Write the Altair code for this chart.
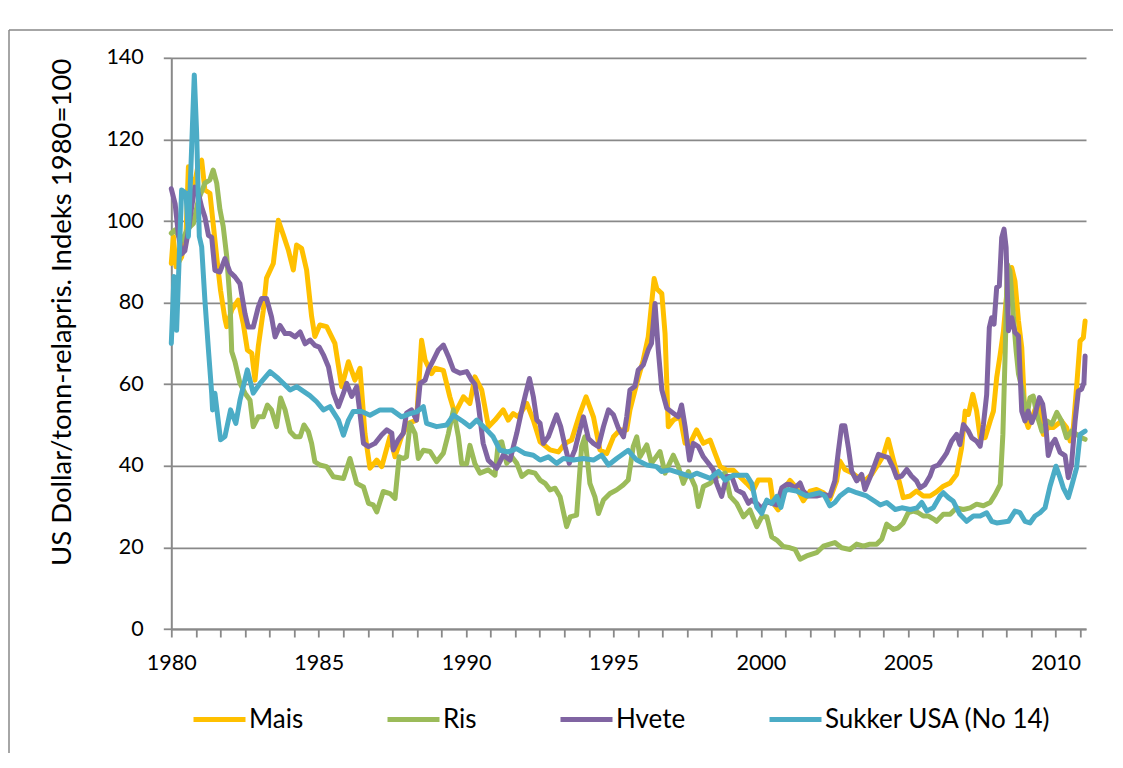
import altair as alt
import pandas as pd

series_names = ["Mais", "Ris", "Hvete", "Sukker USA (No 14)"]
series_colors = ["#FFC000", "#9BBB59", "#8064A2", "#4BACC6"]

y_title = "US Dollar/tonn-relapris. Indeks 1980=100"
y_ticks = [0, 20, 40, 60, 80, 100, 120, 140]
x_ticks = [round(1980 + k * 10 / 12, 4) for k in range(38)]

mais_t = [1980.00, 1980.07, 1980.16, 1980.35, 1980.50, 1980.58, 1980.75, 1980.92, 1981.03, 1981.14,
          1981.31, 1981.42, 1981.54, 1981.67, 1981.82, 1981.88, 1982.05, 1982.27, 1982.44, 1982.58,
          1982.73, 1982.84, 1982.95, 1983.12, 1983.23, 1983.46, 1983.63, 1983.80, 1983.97, 1984.14,
          1984.25, 1984.42, 1984.59, 1984.76, 1984.87, 1985.04, 1985.27, 1985.55, 1985.78, 1986.01,
          1986.23, 1986.40, 1986.57, 1986.74, 1986.97, 1987.14, 1987.42, 1987.59, 1987.81, 1988.04,
          1988.32, 1988.49, 1988.61, 1988.83, 1988.95, 1989.23, 1989.45, 1989.62, 1989.91, 1990.13,
          1990.30, 1990.53, 1990.76, 1990.98, 1991.26, 1991.43, 1991.60, 1991.77, 1992.06, 1992.28,
          1992.51, 1992.85, 1993.13, 1993.36, 1993.58, 1993.86, 1994.07, 1994.32, 1994.54, 1994.77,
          1995.00, 1995.22, 1995.45, 1995.56, 1995.79, 1996.01, 1996.18, 1996.38, 1996.47, 1996.64,
          1996.75, 1996.86, 1997.03, 1997.26, 1997.43, 1997.60, 1997.82, 1998.05, 1998.28, 1998.45,
          1998.62, 1998.84, 1999.07, 1999.29, 1999.52, 1999.74, 1999.91, 2000.31, 2000.42, 2000.59,
          2000.76, 2000.99, 2001.21, 2001.44, 2001.67, 2001.89, 2002.12, 2002.34, 2002.57, 2002.68,
          2002.85, 2003.08, 2003.31, 2003.53, 2003.76, 2003.98, 2004.15, 2004.32, 2004.49, 2004.66,
          2004.83, 2005.06, 2005.28, 2005.51, 2005.74, 2005.96, 2006.19, 2006.42, 2006.64, 2006.81,
          2006.93, 2007.04, 2007.19, 2007.32, 2007.44, 2007.61, 2007.78, 2007.89, 2008.00, 2008.12,
          2008.23, 2008.36, 2008.51, 2008.62, 2008.74, 2008.85, 2008.96, 2009.07, 2009.24, 2009.41,
          2009.58, 2009.75, 2009.92, 2010.20, 2010.37, 2010.49, 2010.60, 2010.71, 2010.83, 2010.94,
          2011.00]
mais_v = [89.6, 96.2, 88.8, 91.2, 96.8, 113.3, 107.6, 114.1, 114.9, 107.6,
          106.8, 99.4, 91.2, 83.0, 76.0, 74.1, 78.2, 80.6, 74.9, 68.4,
          67.6, 61.0, 69.2, 78.0, 86.0, 89.6, 100.2, 96.6, 92.9, 88.0,
          94.1, 93.3, 88.0, 76.6, 71.7, 74.5, 74.1, 70.0, 59.4, 65.5,
          61.0, 63.9, 47.9, 39.4, 41.4, 39.8, 47.2, 42.2, 47.2, 50.4,
          51.2, 70.8, 65.9, 62.6, 63.9, 63.4, 56.9, 52.8, 56.9, 55.3,
          61.8, 58.6, 49.6, 51.2, 53.7, 51.2, 52.8, 52.0, 55.3, 51.2,
          45.9, 43.9, 43.4, 45.5, 46.3, 52.8, 56.9, 52.0, 43.9, 43.0,
          47.1, 48.8, 48.8, 53.7, 60.2, 65.9, 71.6, 85.9, 83.4, 82.2,
          72.4, 49.6, 51.2, 52.0, 45.5, 45.5, 48.8, 45.5, 46.3, 43.0,
          39.8, 38.9, 38.9, 37.3, 35.7, 34.0, 36.5, 36.5, 30.8, 29.2,
          34.1, 36.4, 34.6, 31.4, 33.8, 34.2, 33.4, 31.8, 36.3, 41.2,
          39.1, 38.3, 37.1, 36.3, 37.9, 40.4, 42.4, 46.5, 41.6, 37.1,
          32.2, 32.6, 33.8, 32.6, 32.6, 33.6, 35.0, 35.8, 37.9, 44.4,
          53.4, 52.6, 57.5, 53.4, 46.9, 46.9, 51.0, 53.4, 61.6, 67.3,
          73.0, 83.7, 88.6, 85.3, 75.5, 69.0, 51.8, 49.4, 52.6, 55.9,
          47.7, 49.4, 49.4, 51.0, 49.4, 46.1, 49.4, 59.2, 70.6, 71.4,
          75.5]

ris_t = [1980.00, 1980.13, 1980.35, 1980.55, 1980.75, 1980.92, 1981.14, 1981.31, 1981.42, 1981.54,
         1981.65, 1981.76, 1981.88, 1981.99, 1982.05, 1982.16, 1982.33, 1982.50, 1982.67, 1982.78,
         1982.95, 1983.12, 1983.26, 1983.40, 1983.57, 1983.71, 1983.86, 1984.03, 1984.20, 1984.37,
         1984.50, 1984.65, 1984.76, 1984.87, 1985.04, 1985.27, 1985.50, 1985.84, 1986.06, 1986.29,
         1986.52, 1986.69, 1986.85, 1986.97, 1987.19, 1987.42, 1987.59, 1987.73, 1987.87, 1987.98,
         1988.10, 1988.27, 1988.38, 1988.55, 1988.78, 1989.00, 1989.23, 1989.40, 1989.57, 1989.74,
         1989.85, 1990.02, 1990.13, 1990.30, 1990.47, 1990.75, 1990.98, 1991.09, 1991.21, 1991.38,
         1991.55, 1991.72, 1991.89, 1992.11, 1992.34, 1992.51, 1992.68, 1992.85, 1993.02, 1993.19,
         1993.41, 1993.53, 1993.75, 1993.92, 1994.03, 1994.20, 1994.37, 1994.49, 1994.66, 1994.88,
         1995.11, 1995.33, 1995.50, 1995.67, 1995.79, 1995.90, 1996.13, 1996.29, 1996.58, 1996.75,
         1997.03, 1997.20, 1997.37, 1997.54, 1997.77, 1997.88, 1998.05, 1998.28, 1998.50, 1998.79,
         1998.96, 1999.18, 1999.41, 1999.63, 1999.86, 2000.03, 2000.20, 2000.37, 2000.54, 2000.76,
         2000.99, 2001.16, 2001.33, 2001.55, 2001.89, 2002.12, 2002.34, 2002.51, 2002.74, 2003.02,
         2003.25, 2003.48, 2003.70, 2003.93, 2004.10, 2004.27, 2004.50, 2004.66, 2004.83, 2005.00,
         2005.17, 2005.34, 2005.51, 2005.68, 2005.85, 2005.96, 2006.19, 2006.42, 2006.64, 2006.87,
         2007.10, 2007.32, 2007.55, 2007.78, 2007.95, 2008.12, 2008.21, 2008.29, 2008.36, 2008.45,
         2008.57, 2008.66, 2008.74, 2008.85, 2009.02, 2009.13, 2009.24, 2009.36, 2009.53, 2009.70,
         2009.87, 2010.04, 2010.20, 2010.37, 2010.54, 2010.71, 2010.88, 2011.00]
ris_v = [97.0, 97.8, 95.0, 98.0, 99.4, 105.2, 109.3, 110.1, 112.5, 109.3,
         102.8, 98.7, 91.3, 80.6, 68.0, 65.5, 60.2, 57.8, 56.1, 49.6,
         52.0, 52.0, 54.9, 53.7, 49.6, 56.6, 53.7, 48.4, 47.1, 47.1,
         50.0, 48.4, 45.5, 41.0, 40.2, 39.8, 37.3, 36.9, 41.8, 35.7,
         34.8, 30.8, 30.4, 28.7, 33.7, 33.2, 32.0, 42.2, 41.8, 42.2,
         50.4, 47.9, 41.8, 43.8, 43.5, 41.0, 43.1, 47.9, 53.7, 47.1,
         40.5, 40.5, 45.0, 40.5, 38.2, 39.0, 37.7, 45.5, 45.9, 40.6,
         42.2, 40.6, 37.4, 38.6, 38.2, 36.5, 35.7, 34.1, 34.5, 32.4,
         25.1, 27.5, 27.9, 44.7, 47.1, 35.7, 32.4, 28.3, 31.6, 33.2,
         34.1, 35.3, 36.5, 44.7, 47.1, 42.2, 45.1, 40.6, 43.5, 38.2,
         42.6, 39.8, 35.7, 38.6, 34.9, 30.0, 34.9, 35.7, 37.3, 38.2,
         32.5, 30.8, 27.5, 29.2, 25.1, 27.5, 27.5, 22.6, 21.8, 20.2,
         19.9, 19.5, 17.1, 17.9, 18.7, 20.3, 20.8, 21.2, 19.9, 19.5,
         20.8, 20.3, 20.8, 20.8, 22.0, 25.7, 24.4, 24.8, 26.0, 28.5,
         28.9, 28.5, 27.7, 27.7, 27.0, 26.4, 28.1, 28.1, 29.7, 29.3,
         29.7, 30.6, 30.2, 31.0, 33.0, 35.4, 47.7, 68.2, 89.4, 87.7,
         76.3, 68.2, 62.5, 59.2, 51.8, 56.7, 57.1, 52.6, 48.5, 51.0,
         50.2, 53.1, 51.0, 46.9, 48.5, 47.7, 46.9, 46.5]

hvete_t = [1980.00, 1980.13, 1980.24, 1980.35, 1980.46, 1980.58, 1980.69, 1980.80, 1980.92, 1981.03,
           1981.14, 1981.26, 1981.37, 1981.48, 1981.65, 1981.82, 1981.99, 1982.16, 1982.33, 1982.50,
           1982.61, 1982.78, 1982.95, 1983.06, 1983.23, 1983.40, 1983.52, 1983.69, 1983.86, 1984.03,
           1984.20, 1984.37, 1984.54, 1984.71, 1984.87, 1985.02, 1985.16, 1985.33, 1985.50, 1985.67,
           1985.84, 1985.95, 1986.12, 1986.29, 1986.40, 1986.52, 1986.69, 1986.91, 1987.14, 1987.31,
           1987.48, 1987.53, 1987.70, 1987.87, 1987.98, 1988.15, 1988.32, 1988.44, 1988.61, 1988.72,
           1988.89, 1989.06, 1989.23, 1989.40, 1989.57, 1989.80, 1990.02, 1990.19, 1990.30, 1990.41,
           1990.58, 1990.75, 1991.04, 1991.26, 1991.49, 1991.72, 1991.89, 1992.00, 1992.15, 1992.28,
           1992.40, 1992.51, 1992.62, 1992.79, 1992.96, 1993.07, 1993.21, 1993.36, 1993.50, 1993.69,
           1993.86, 1993.98, 1994.15, 1994.32, 1994.49, 1994.66, 1994.83, 1995.00, 1995.17, 1995.34,
           1995.45, 1995.56, 1995.73, 1995.84, 1996.01, 1996.18, 1996.29, 1996.41, 1996.52, 1996.64,
           1996.81, 1997.03, 1997.20, 1997.31, 1997.43, 1997.58, 1997.71, 1997.88, 1998.05, 1998.22,
           1998.39, 1998.50, 1998.67, 1998.84, 1999.01, 1999.18, 1999.41, 1999.58, 1999.69, 1999.86,
           2000.03, 2000.20, 2000.37, 2000.54, 2000.71, 2000.88, 2000.99, 2001.16, 2001.33, 2001.44,
           2001.61, 2001.89, 2002.12, 2002.34, 2002.51, 2002.63, 2002.74, 2002.85, 2002.97, 2003.08,
           2003.25, 2003.42, 2003.53, 2003.70, 2003.87, 2003.99, 2004.15, 2004.32, 2004.49, 2004.61,
           2004.78, 2004.95, 2005.11, 2005.28, 2005.40, 2005.57, 2005.74, 2005.85, 2006.02, 2006.19,
           2006.30, 2006.47, 2006.64, 2006.75, 2006.87, 2007.04, 2007.15, 2007.32, 2007.44, 2007.55,
           2007.66, 2007.75, 2007.83, 2007.91, 2008.00, 2008.09, 2008.17, 2008.25, 2008.32, 2008.40,
           2008.51, 2008.62, 2008.74, 2008.85, 2008.96, 2009.07, 2009.19, 2009.30, 2009.45, 2009.56,
           2009.67, 2009.75, 2009.87, 2009.98, 2010.15, 2010.32, 2010.43, 2010.54, 2010.66, 2010.77,
           2010.88, 2010.96, 2011.00]
hvete_v = [107.9, 104.2, 96.8, 91.9, 92.7, 97.6, 103.4, 108.3, 106.7, 103.4,
           101.0, 96.5, 96.0, 87.9, 87.5, 90.8, 87.5, 86.3, 84.6, 77.3,
           74.0, 74.0, 78.9, 81.0, 81.0, 76.5, 71.6, 74.4, 72.4, 72.4,
           71.6, 72.8, 69.9, 70.8, 69.5, 69.1, 67.2, 64.3, 57.8, 54.5,
           57.8, 60.2, 57.0, 59.4, 52.9, 45.5, 44.7, 45.5, 47.6, 48.8,
           48.0, 43.9, 46.4, 48.0, 52.9, 53.7, 51.2, 60.2, 61.0, 63.5,
           65.9, 68.4, 69.6, 66.8, 63.5, 62.7, 63.1, 61.0, 60.0, 55.3,
           45.5, 41.4, 39.4, 42.6, 41.4, 48.0, 53.7, 57.0, 61.4, 57.0,
           51.2, 50.4, 45.5, 47.1, 50.4, 52.5, 49.6, 44.7, 40.6, 43.9,
           48.8, 52.0, 46.7, 45.5, 44.7, 49.6, 53.7, 52.5, 49.2, 47.1,
           52.0, 58.6, 59.5, 63.5, 64.7, 68.4, 70.0, 79.8, 68.4, 58.6,
           54.1, 52.9, 52.0, 54.9, 49.6, 41.4, 45.5, 44.7, 42.2, 40.6,
           39.0, 35.7, 32.5, 37.4, 37.4, 34.1, 33.2, 30.8, 31.6, 30.8,
           29.5, 31.2, 30.8, 30.4, 34.6, 35.5, 35.4, 34.6, 35.8, 33.8,
           32.6, 32.6, 33.0, 32.6, 36.3, 43.6, 49.8, 49.8, 44.4, 38.7,
           36.3, 37.9, 34.2, 37.1, 40.4, 42.8, 42.4, 42.0, 39.5, 37.1,
           37.5, 39.1, 37.5, 36.3, 34.6, 35.4, 37.5, 39.7, 40.2, 41.9,
           43.1, 46.0, 47.7, 45.2, 50.1, 48.5, 46.9, 46.0, 44.8, 50.1,
           57.4, 73.9, 76.3, 74.7, 83.7, 84.1, 95.9, 98.0, 93.5, 73.1,
           76.3, 72.7, 71.8, 53.4, 51.0, 53.4, 50.6, 52.6, 56.7, 55.1,
           49.4, 42.5, 45.3, 46.5, 43.3, 42.5, 37.1, 40.4, 51.0, 58.3,
           58.8, 60.4, 66.9]

sukker_t = [1980.00, 1980.09, 1980.18, 1980.35, 1980.50, 1980.58, 1980.78, 1980.86, 1980.95, 1981.03,
            1981.14, 1981.26, 1981.37, 1981.40, 1981.48, 1981.67, 1981.82, 1982.01, 1982.19, 1982.33,
            1982.58, 1982.78, 1983.01, 1983.35, 1983.63, 1984.03, 1984.25, 1984.70, 1984.93, 1985.16,
            1985.38, 1985.67, 1985.84, 1986.01, 1986.17, 1986.46, 1986.74, 1987.08, 1987.48, 1987.81,
            1988.10, 1988.32, 1988.55, 1988.66, 1989.00, 1989.34, 1989.57, 1989.91, 1990.13, 1990.36,
            1990.70, 1990.92, 1991.15, 1991.43, 1991.71, 1992.00, 1992.28, 1992.51, 1992.79, 1993.07,
            1993.30, 1993.64, 1993.98, 1994.32, 1994.60, 1994.83, 1995.11, 1995.50, 1995.65, 1995.79,
            1996.13, 1996.46, 1996.63, 1996.92, 1997.26, 1997.60, 1997.82, 1998.28, 1998.56, 1998.79,
            1999.07, 1999.52, 1999.69, 1999.86, 2000.03, 2000.20, 2000.37, 2000.54, 2000.68, 2000.82,
            2000.93, 2001.21, 2001.55, 2002.00, 2002.17, 2002.34, 2002.51, 2002.68, 2002.97, 2003.25,
            2003.59, 2003.93, 2004.05, 2004.27, 2004.56, 2004.78, 2005.07, 2005.30, 2005.46, 2005.63,
            2005.85, 2006.08, 2006.19, 2006.36, 2006.53, 2006.75, 2006.98, 2007.21, 2007.44, 2007.66,
            2007.83, 2008.00, 2008.40, 2008.62, 2008.79, 2008.96, 2009.13, 2009.30, 2009.47, 2009.64,
            2009.81, 2010.01, 2010.15, 2010.26, 2010.43, 2010.54, 2010.71, 2010.83, 2011.00]
sukker_v = [70.0, 86.4, 73.2, 107.6, 106.8, 96.2, 135.8, 121.5, 96.2, 93.7,
            80.6, 68.4, 57.8, 53.7, 57.8, 46.4, 47.2, 53.7, 50.4, 56.1,
            63.5, 57.8, 60.2, 63.1, 61.4, 58.6, 59.4, 57.2, 55.7, 53.7,
            54.5, 51.2, 47.5, 51.2, 53.3, 53.3, 52.4, 53.7, 53.7, 52.0,
            52.8, 53.2, 54.5, 50.4, 49.6, 50.0, 52.4, 50.8, 49.6, 51.2,
            48.8, 47.1, 43.8, 43.4, 44.2, 43.0, 42.6, 41.4, 42.2, 40.6,
            41.8, 41.4, 41.8, 41.4, 42.6, 40.2, 41.8, 43.8, 42.5, 41.4,
            40.2, 39.8, 38.6, 39.0, 38.2, 37.4, 38.2, 36.9, 38.6, 36.5,
            37.7, 37.7, 35.7, 29.9, 28.3, 31.6, 30.8, 32.5, 29.8, 33.8,
            34.2, 33.8, 32.6, 33.4, 32.6, 30.2, 31.0, 32.6, 34.2, 33.4,
            32.6, 31.0, 30.4, 31.0, 29.3, 29.7, 29.3, 29.7, 31.0, 28.9,
            29.7, 32.6, 33.4, 32.2, 31.3, 28.1, 26.4, 27.7, 27.7, 28.5,
            26.4, 26.0, 26.4, 28.9, 28.5, 26.4, 26.0, 27.7, 28.5, 29.7,
            35.0, 39.9, 37.1, 34.6, 32.2, 35.0, 39.5, 47.7, 48.5]

frames = []
for name, ts, vs in zip(series_names,
                        [mais_t, ris_t, hvete_t, sukker_t],
                        [mais_v, ris_v, hvete_v, sukker_v]):
    frames.append(pd.DataFrame({"t": ts, "v": vs, "serie": name}))
data = pd.concat(frames, ignore_index=True)

FONT = "Lato"
GRID = "#898989"
PLOT_W = 914.7
PLOT_H = 571.2

x_enc = alt.X(
    "t:Q",
    scale=alt.Scale(domain=[1980, 2011.03], nice=False, zero=False),
    axis=alt.Axis(
        values=x_ticks,
        labelExpr="datum.value % 5 == 0 ? format(datum.value, 'd') : ''",
        title=None, grid=False, labelOverlap=False, labelFlush=False,
        labelFont=FONT, labelFontSize=21.5, labelColor="black", labelPadding=15,
        tickSize=8, tickColor=GRID, tickWidth=1.8,
        domainColor=GRID, domainWidth=2,
    ),
)
y_enc = alt.Y(
    "v:Q",
    scale=alt.Scale(domain=[0, 140], nice=False),
    axis=alt.Axis(
        values=y_ticks, title=y_title,
        titleFont=FONT, titleFontSize=27.5, titleFontWeight="normal", titleColor="black",
        titleAngle=270, titleX=-109, titleY=254, titleAlign="center", titleBaseline="middle",
        labelFont=FONT, labelFontSize=21.5, labelColor="black", labelPadding=20,
        tickSize=8, tickColor=GRID, tickWidth=1.8,
        domainColor=GRID, domainWidth=2,
        grid=True, gridColor=GRID, gridWidth=1.8,
    ),
)
color_enc = alt.Color(
    "serie:N",
    scale=alt.Scale(domain=series_names, range=series_colors),
    legend=alt.Legend(
        orient="none", legendX=19.7, legendY=633, direction="horizontal", title=None,
        symbolType="stroke", symbolSize=2704, symbolStrokeWidth=5,
        labelFont=FONT, labelFontSize=26, labelColor="black", labelOffset=1,
        labelLimit=400, columnPadding=73,
    ),
)

base = alt.Chart(data).encode(x=x_enc, y=y_enc, color=color_enc)
lines = [
    base.transform_filter(alt.datum.serie == name).mark_line(
        strokeWidth=5, strokeJoin="round", strokeCap="round"
    )
    for name in series_names
]

one_row = pd.DataFrame({"d": [0]})
border_top = alt.Chart(one_row).mark_rule(color=GRID, strokeWidth=1.5).encode(
    x=alt.value(-162.3), x2=alt.value(PLOT_W + 27), y=alt.value(-27.8)
)
border_left = alt.Chart(one_row).mark_rule(color=GRID, strokeWidth=1.5).encode(
    x=alt.value(-162.3), y=alt.value(-27.8), y2=alt.value(PLOT_H + 150)
)

chart = alt.layer(border_top, border_left, *lines).properties(
    width=PLOT_W, height=PLOT_H,
    autosize=alt.AutoSizeParams(type="none"),
    padding={"left": 163.3, "top": 49.8, "right": 29, "bottom": 124},
).configure_view(strokeWidth=0)

chart.save("out.html", embed_options={"renderer": "svg", "actions": False})
